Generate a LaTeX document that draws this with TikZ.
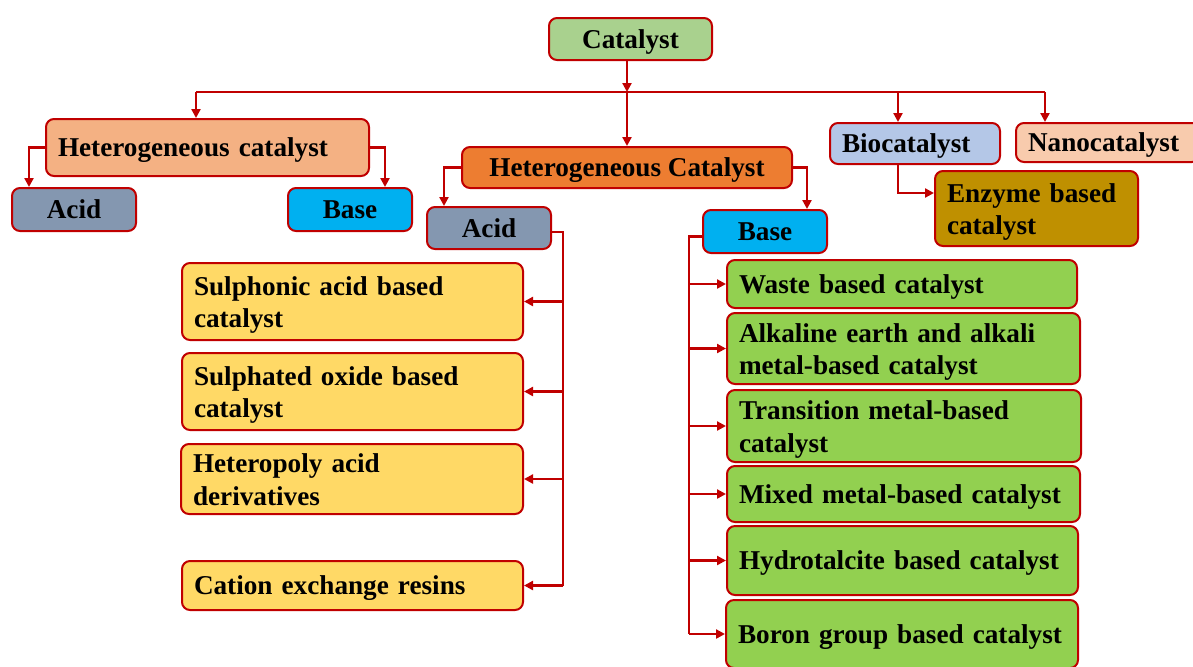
\documentclass[tikz,border=0pt]{standalone}
\usepackage{fontspec}
\setmainfont{Liberation Serif}
\usetikzlibrary{arrows.meta, calc}
\definecolor{cred}{HTML}{C00000}
\definecolor{ccat}{HTML}{A9D18E}
\definecolor{chetlight}{HTML}{F4B183}
\definecolor{chet}{HTML}{ED7D31}
\definecolor{cacid}{HTML}{8497B0}
\definecolor{cbase}{HTML}{00B0F0}
\definecolor{cbio}{HTML}{B4C7E7}
\definecolor{cnano}{HTML}{F8CBAD}
\definecolor{cenzyme}{HTML}{BF9000}
\definecolor{cyellow}{HTML}{FFD966}
\definecolor{cgreen}{HTML}{92D050}

\begin{document}
\begin{tikzpicture}[x=0.5pt, y=-0.5pt, >={Triangle[length=4.5pt,width=4.5pt]},
    box/.style={draw=cred, line width=1pt, rounded corners=4pt, inner xsep=6pt, inner ysep=2pt,
      text height=9pt, text depth=0pt, font=\fontsize{13.6}{16.4}\selectfont\bfseries},
    twoline/.style={text height=10pt, text depth=16.5pt},
    link/.style={draw=cred, line width=1.2pt}]
    \useasboundingbox (0,0) rectangle (1193,666);

    \node[box, fill=ccat, minimum width=81.5pt, minimum height=21pt] (catalyst) at (630.5,39) {Catalyst};

    \node[box, fill=chetlight, minimum width=161.5pt, minimum height=28.5pt, text width=149.5pt, align=left]
      (hetA) at (207.5,147.5) {Heterogeneous catalyst};
    \node[box, fill=cacid, minimum width=62pt, minimum height=21.5pt] (acidA) at (74,209.5) {Acid};
    \node[box, fill=cbase, minimum width=62pt, minimum height=21.5pt] (baseA) at (350,209.5) {Base};

    \node[box, fill=chet, minimum width=165pt, minimum height=20.5pt] (hetB) at (627,167.5) {Heterogeneous Catalyst};
    \node[box, fill=cacid, minimum width=62pt, minimum height=21pt] (acidB) at (489,228) {Acid};
    \node[box, fill=cbase, minimum width=62pt, minimum height=21.5pt] (baseB) at (765,231.5) {Base};

    \node[box, fill=cbio, minimum width=85pt, minimum height=20.5pt, text width=73pt, align=left]
      (bio) at (915,143.5) {Biocatalyst};
    \node[box, fill=cnano, minimum width=92pt, minimum height=19.5pt, text width=80pt, align=left]
      (nano) at (1108,142.5) {Nanocatalyst};
    \node[box, twoline, fill=cenzyme, minimum width=101.5pt, minimum height=37.5pt, text width=89.5pt, align=left]
      (enzyme) at (1036.5,208.5) {Enzyme based\\catalyst};

    \node[box, twoline, fill=cyellow, minimum width=170.5pt, minimum height=38.5pt, text width=158.5pt, align=left]
      (sulphonic) at (352.5,301.5) {Sulphonic acid based\\catalyst};
    \node[box, twoline, fill=cyellow, minimum width=170.5pt, minimum height=38.5pt, text width=158.5pt, align=left]
      (sulphated) at (352.5,391.5) {Sulphated oxide based\\catalyst};
    \node[box, twoline, fill=cyellow, minimum width=171pt, minimum height=35pt, text width=159pt, align=left]
      (heteropoly) at (352,479) {Heteropoly acid\\derivatives};
    \node[box, fill=cyellow, minimum width=170.5pt, minimum height=24.5pt, text width=158.5pt, align=left]
      (cation) at (352.5,585.5) {Cation exchange resins};

    \node[box, fill=cgreen, minimum width=175pt, minimum height=24pt, text width=163pt, align=left]
      (waste) at (902,284) {Waste based catalyst};
    \node[box, twoline, fill=cgreen, minimum width=176.5pt, minimum height=35.5pt, text width=164.5pt, align=left]
      (alkaline) at (903.5,348.5) {Alkaline earth and alkali\\metal-based catalyst};
    \node[box, twoline, fill=cgreen, minimum width=177pt, minimum height=36pt, text width=165pt, align=left]
      (transition) at (904,426) {Transition metal-based\\catalyst};
    \node[box, fill=cgreen, minimum width=176.5pt, minimum height=28pt, text width=164.5pt, align=left]
      (mixed) at (903.5,494) {Mixed metal-based catalyst};
    \node[box, fill=cgreen, minimum width=175.5pt, minimum height=34.5pt, text width=163.5pt, align=left]
      (hydro) at (902.5,560.5) {Hydrotalcite based catalyst};
    \node[box, fill=cgreen, minimum width=176pt, minimum height=34pt, text width=164pt, align=left]
      (boron) at (902,634) {Boron group based catalyst};

    \coordinate (busL) at (196,92);
    \coordinate (busB) at (898,92);
    \coordinate (busR) at (1045,92);

    \draw[link, ->] (hetB.north |- catalyst.south) -- (hetB.north |- busL);
    \draw[link] (busL) -- (busR);
    \draw[link, ->] (hetB.north |- busL) -- (hetB.north);
    \foreach \c/\n in {busL/hetA, busB/bio, busR/nano}{
      \draw[link, ->] (\c) -- (\c |- \n.north);
    }

    \draw[link, ->] (hetA.west) -| ($(acidA.north west)+(18,0)$);
    \draw[link, ->] (hetA.east) -| ($(baseA.north east)+(-28,0)$);
    \draw[link, ->] (hetB.west) -| ($(acidB.north west)+(18,0)$);
    \draw[link, ->] (hetB.east) -| ($(baseB.north east)+(-21,0)$);
    \draw[link, ->] (busB |- bio.south) |- ($(enzyme.west)+(0,-15.5)$);

    \draw[link] ($(acidB.east)+(0,4)$) -- ++(11,0) coordinate (aspine)
      -- (aspine |- cation.east);
    \foreach \n in {sulphonic, sulphated, heteropoly, cation}{
      \draw[link, ->] (aspine |- \n.east) -- (\n.east);
    }

    \draw[link] ($(baseB.west)+(0,5)$) -- ++(-13,0) coordinate (bspine)
      -- (bspine |- boron.west);
    \foreach \n in {waste, alkaline, transition, mixed, hydro, boron}{
      \draw[link, ->] (bspine |- \n.west) -- (\n.west);
    }
\end{tikzpicture}
\end{document}
